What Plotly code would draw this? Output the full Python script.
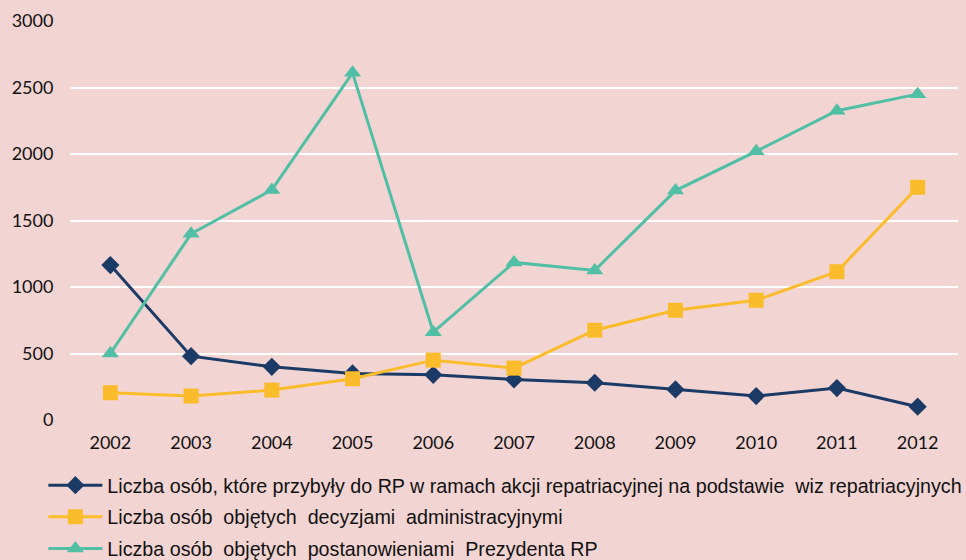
import plotly.graph_objects as go

years = ["2002", "2003", "2004", "2005", "2006", "2007", "2008", "2009", "2010", "2011", "2012"]
repatriacja_wizy = [1165, 480, 400, 350, 340, 305, 280, 230, 180, 240, 100]
decyzje_admin = [205, 180, 225, 310, 450, 390, 675, 825, 900, 1115, 1750]
postanowienia_prezydenta = [500, 1400, 1730, 2610, 660, 1185, 1125, 1725, 2020, 2325, 2450]

names = [
    "Liczba osób, które przybyły do RP w ramach akcji repatriacyjnej na podstawie  wiz repatriacyjnych",
    "Liczba osób  objętych  decyzjami  administracyjnymi",
    "Liczba osób  objętych  postanowieniami  Prezydenta RP",
]

BG = "#F2D4D2"
fig = go.Figure()
fig.add_trace(go.Scatter(x=years, y=repatriacja_wizy, name=names[0], mode="lines+markers",
                         legendgroup="a",
                         line=dict(color="#1B3A66", width=3),
                         marker=dict(symbol="diamond", size=14, color="#1B3A66")))
fig.add_trace(go.Scatter(x=years, y=decyzje_admin, name=names[1], mode="lines+markers",
                         legendgroup="b",
                         line=dict(color="#FBBC2B", width=3),
                         marker=dict(symbol="square", size=15, color="#FBBC2B")))
fig.add_trace(go.Scatter(x=years, y=postanowienia_prezydenta, name=names[2], mode="lines+markers",
                         legendgroup="c",
                         line=dict(color="#50BFA5", width=3),
                         marker=dict(symbol="triangle-up", size=15, color="#50BFA5")))

fig.update_layout(
    width=966, height=560,
    paper_bgcolor=BG, plot_bgcolor=BG,
    margin=dict(l=70, r=8, t=21, b=140, autoexpand=False),
    font=dict(family="Lato, Liberation Sans, sans-serif", size=18, color="#111111"),
    xaxis=dict(type="category", range=[-0.5, 10.5], showgrid=False, zeroline=False, showline=False,
               ticks="", ticklabelstandoff=10, tickfont=dict(size=18)),
    yaxis=dict(range=[0, 3000], dtick=500, showgrid=True, gridcolor="#FFFFFF", gridwidth=2,
               zeroline=False, showline=False, ticks="outside", ticklen=12, tickcolor=BG,
               tickfont=dict(size=18)),
    legend=dict(x=-0.03, y=-0.115, xanchor="left", yanchor="top",
                orientation="v", bgcolor="rgba(0,0,0,0)", tracegroupgap=3,
                font=dict(family="Liberation Sans Narrow, Liberation Sans, sans-serif", size=19.7),
                itemwidth=54),
    showlegend=True,
)

fig.write_html("out.html", config={"displayModeBar": False},
               post_script="document.body.style.margin='0';document.body.style.padding='0';")
